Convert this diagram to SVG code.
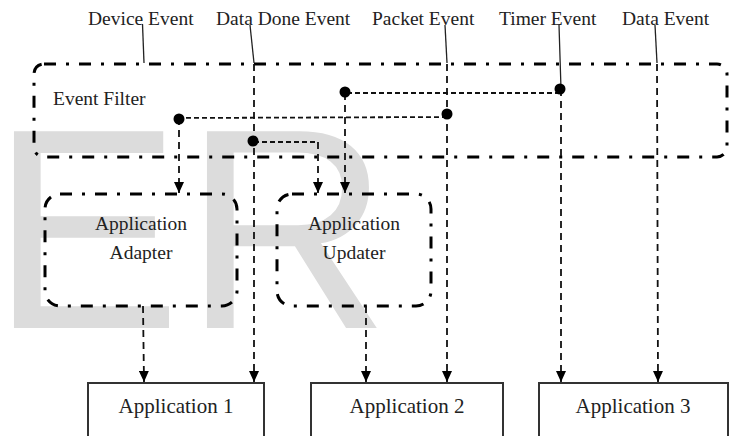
<svg xmlns="http://www.w3.org/2000/svg" width="734" height="436" viewBox="0 0 734 436">
  <defs>
    <style>
      .wm { font-family: "Liberation Sans", Arial, sans-serif; font-size: 286px; fill: #dcdcdc; }
      .lbl { font-family: "Liberation Serif", "Times New Roman", serif; font-size: 19.5px; fill: #222; }
      .app { font-family: "Liberation Serif", "Times New Roman", serif; font-size: 21px; fill: #222; text-anchor: middle; }
      .mid { text-anchor: middle; }
      .dd { fill: none; stroke: #000; stroke-width: 3; stroke-dasharray: 12 10 3 10; }
      .box { fill: #fff; stroke: #333; stroke-width: 2; }
      .lead { fill: none; stroke: #222; stroke-width: 1.3; }
      .dv { fill: none; stroke: #111; stroke-width: 1.8; stroke-dasharray: 7 5; }
      .dh { fill: none; stroke: #111; stroke-width: 1.8; stroke-dasharray: 5 3; }
      .dot { fill: #000; }
    </style>
    <marker id="arr" viewBox="0 0 11 10" refX="11" refY="5" markerWidth="11" markerHeight="10" markerUnits="userSpaceOnUse" orient="auto">
      <path d="M0,0 L11,5 L0,10 z" fill="#000"/>
    </marker>
  </defs>

  <rect width="734" height="436" fill="#fff"/>

  <!-- watermark -->
  <g id="watermark">
    <text class="wm" x="-9.5" y="328">E</text>
    <text class="wm" x="183.5" y="328">R</text>
  </g>

  <!-- top labels -->
  <g id="labels">
    <text class="lbl" x="88" y="25">Device Event</text>
    <text class="lbl" x="216" y="25">Data Done Event</text>
    <text class="lbl" x="372" y="25">Packet Event</text>
    <text class="lbl" x="499" y="25">Timer Event</text>
    <text class="lbl" x="622" y="25">Data Event</text>
  </g>

  <g id="event-filter">
    <rect class="dd" x="34" y="64" width="693" height="93" rx="10" ry="10"/>
    <text class="lbl" x="53" y="105">Event Filter</text>
  </g>

  <g id="application-adapter">
    <rect class="dd" x="45" y="194" width="192" height="112" rx="15" ry="15"/>
    <text class="lbl mid" x="141" y="230">Application</text>
    <text class="lbl mid" x="141" y="259">Adapter</text>
  </g>

  <g id="application-updater">
    <rect class="dd" x="277" y="194" width="154" height="112" rx="15" ry="15"/>
    <text class="lbl mid" x="354" y="230">Application</text>
    <text class="lbl mid" x="354" y="259">Updater</text>
  </g>

  <g id="application-1">
    <rect class="box" x="88" y="383" width="176" height="60"/>
    <text class="app" x="176" y="413">Application 1</text>
  </g>
  <g id="application-2">
    <rect class="box" x="311" y="383" width="192" height="60"/>
    <text class="app" x="407" y="413">Application 2</text>
  </g>
  <g id="application-3">
    <rect class="box" x="539" y="383" width="189" height="60"/>
    <text class="app" x="633" y="413">Application 3</text>
  </g>

  <g id="connectors">
    <!-- leaders -->
    <path class="lead" d="M142.5,24 L144,63"/>
    <path class="lead" d="M250,25 L254,63"/>
    <path class="lead" d="M445,25 L447,63"/>
    <path class="lead" d="M559,25 L561,89"/>
    <path class="lead" d="M655,25 L657,63"/>
    <!-- long verticals to applications -->
    <path class="dv" d="M254,64 L254,382" marker-end="url(#arr)"/>
    <path class="dv" d="M447,64 L447,382" marker-end="url(#arr)"/>
    <path class="dv" d="M561,89 L561,382" marker-end="url(#arr)"/>
    <path class="dv" d="M657,64 L658,382" marker-end="url(#arr)"/>
    <!-- filter to adapter / updater -->
    <path class="dh" d="M560,93 L345,93"/>
    <path class="dv" d="M345,93 L345,193" marker-end="url(#arr)"/>
    <path class="dh" d="M447,117 L179,118"/>
    <path class="dv" d="M179,118 L179,193" marker-end="url(#arr)"/>
    <path class="dh" d="M254,142 L318,142"/>
    <path class="dv" d="M318,142 L318,193" marker-end="url(#arr)"/>
    <!-- adapter / updater to applications -->
    <path class="dv" d="M143,306 L144,382" marker-end="url(#arr)"/>
    <path class="dv" d="M366,306 L366,382" marker-end="url(#arr)"/>
    <!-- junction dots -->
    <circle class="dot" cx="560" cy="89" r="5.5"/>
    <circle class="dot" cx="447" cy="114" r="5.5"/>
    <circle class="dot" cx="345" cy="92" r="5.5"/>
    <circle class="dot" cx="179" cy="119" r="5.5"/>
    <circle class="dot" cx="253" cy="141" r="5.5"/>
  </g>
</svg>
